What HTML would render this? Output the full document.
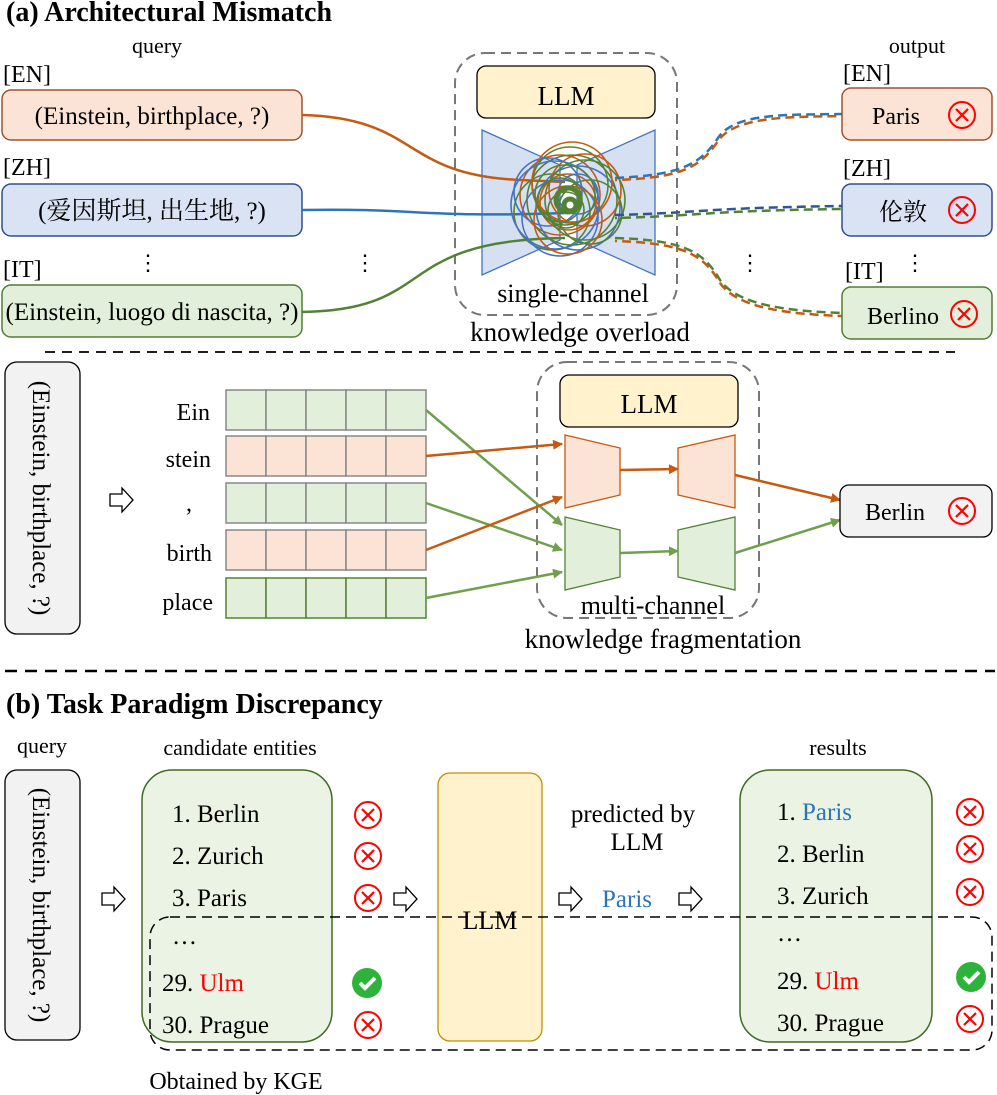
<!DOCTYPE html>
<html><head><meta charset="utf-8"><style>
body{margin:0;background:#fff}
svg{display:block}
text{font-family:"Liberation Serif","Times New Roman",serif;fill:#000}
.cjk{font-family:"Liberation Serif","Noto Serif CJK SC","Noto Sans CJK SC",serif}
</style></head><body>
<svg width="997" height="1095" viewBox="0 0 997 1095" xmlns="http://www.w3.org/2000/svg">
<defs>
<g id="xr"><circle r="13" fill="none" stroke="#f00" stroke-width="2"/><path d="M-6,-6L6,6M6,-6L-6,6" stroke="#f00" stroke-width="2.2"/></g>
<g id="ck"><circle r="15" fill="#2eb33a"/><path d="M-7,0L-2,5L8,-5" stroke="#fff" stroke-width="4" fill="none"/></g>
<g id="ar"><path d="M-11,-6H1V-12L12,0L1,12V6H-11Z" fill="#fff" stroke="#000" stroke-width="1.3"/></g>
<marker id="mo" markerWidth="10" markerHeight="10" refX="9" refY="5" orient="auto" markerUnits="userSpaceOnUse"><path d="M0,0L10,5L0,10Z" fill="#c55a11"/></marker>
<marker id="mg" markerWidth="10" markerHeight="10" refX="9" refY="5" orient="auto" markerUnits="userSpaceOnUse"><path d="M0,0L10,5L0,10Z" fill="#70a04c"/></marker>
</defs>

<text x="6" y="21" font-size="28" font-weight="bold">(a) Architectural Mismatch</text>
<text x="157" y="53" font-size="22" text-anchor="middle">query</text>
<text x="917" y="53" font-size="22" text-anchor="middle">output</text>

<text x="3" y="82" font-size="24">[EN]</text>
<rect x="2" y="90" width="300" height="50" rx="9" fill="#fbe4d6" stroke="#a0522d" stroke-width="1.5"/>
<text x="152" y="124" font-size="25" text-anchor="middle">(Einstein, birthplace, ?)</text>
<text x="3" y="175" font-size="24">[ZH]</text>
<rect x="2" y="184" width="300" height="52" rx="9" fill="#dae3f3" stroke="#2f4f8f" stroke-width="1.5"/>
<text x="152" y="219" font-size="25" text-anchor="middle" class="cjk">(爱因斯坦, 出生地, ?)</text>
<text x="148" y="270" font-size="22" text-anchor="middle">⋮</text>
<text x="365" y="270" font-size="22" text-anchor="middle">⋮</text>
<text x="3" y="277" font-size="24">[IT]</text>
<rect x="2" y="285" width="300" height="52" rx="9" fill="#e2efda" stroke="#507e32" stroke-width="1.5"/>
<text x="152" y="320" font-size="25" text-anchor="middle">(Einstein, luogo di nascita, ?)</text>

<rect x="455" y="53" width="222" height="262" rx="30" fill="none" stroke="#777" stroke-width="2" stroke-dasharray="10,6"/>
<rect x="477" y="66" width="178" height="52" rx="9" fill="#fff2cc" stroke="#000" stroke-width="1.3"/>
<text x="566" y="105" font-size="27" text-anchor="middle">LLM</text>
<path d="M482,130L560,165L560,240L482,275Z" fill="#d6e0f3" stroke="#4472c4" stroke-width="1.3"/>
<path d="M655,130L577,165L577,240L655,275Z" fill="#d6e0f3" stroke="#4472c4" stroke-width="1.3"/>

<path d="M302,115C420,118 400,175 520,180L565,182" fill="none" stroke="#c55a11" stroke-width="2.5"/>
<path d="M302,210C420,208 420,218 565,213" fill="none" stroke="#2e75b6" stroke-width="2.5"/>
<path d="M302,312C440,310 390,240 565,238" fill="none" stroke="#548235" stroke-width="2.5"/>

<g fill="none" stroke-width="1.6">
<circle cx="560" cy="195" r="40" stroke="#c55a11"/><circle cx="578" cy="208" r="42" stroke="#4472c4"/>
<circle cx="570" cy="185" r="38" stroke="#548235"/><circle cx="552" cy="212" r="38" stroke="#548235"/>
<circle cx="585" cy="190" r="36" stroke="#c55a11"/><circle cx="560" cy="218" r="38" stroke="#4472c4"/>
<circle cx="572" cy="200" r="45" stroke="#548235"/><circle cx="548" cy="192" r="34" stroke="#4472c4"/>
<circle cx="590" cy="212" r="32" stroke="#548235"/><circle cx="568" cy="202" r="28" stroke="#c55a11"/>
<circle cx="560" cy="200" r="22" stroke="#548235"/><circle cx="578" cy="194" r="20" stroke="#4472c4"/>
<circle cx="566" cy="210" r="18" stroke="#548235"/><circle cx="572" cy="182" r="40" stroke="#c55a11"/>
<circle cx="555" cy="205" r="44" stroke="#4472c4"/><circle cx="585" cy="200" r="40" stroke="#548235"/>
<circle cx="568" cy="220" r="34" stroke="#c55a11"/><circle cx="565" cy="195" r="30" stroke="#548235"/>
<circle cx="568" cy="200" r="12" stroke="#548235" stroke-width="5"/>
<circle cx="570" cy="205" r="6" stroke="#548235" stroke-width="5"/>
</g>

<g fill="none" stroke-width="2.5" stroke-dasharray="9,5">
<path d="M615,178C680,175 700,165 718,138C735,112 790,115 842,114" stroke="#2e75b6"/>
<path d="M615,180C680,178 700,168 718,141C735,116 790,117 842,116" stroke="#c55a11" stroke-dashoffset="7"/>
<path d="M615,215C700,213 700,208 842,206" stroke="#2f5597"/>
<path d="M615,218C700,216 700,211 842,209" stroke="#548235" stroke-dashoffset="7"/>
<path d="M615,238C690,240 705,255 720,280C738,306 790,311 842,313" stroke="#548235"/>
<path d="M615,241C690,243 705,258 720,283C738,309 790,314 842,316" stroke="#c55a11" stroke-dashoffset="7"/>
</g>
<text x="573" y="302" font-size="26" text-anchor="middle">single-channel</text>
<text x="580" y="341" font-size="27" text-anchor="middle">knowledge overload</text>
<text x="750" y="270" font-size="22" text-anchor="middle">⋮</text>
<text x="915" y="270" font-size="22" text-anchor="middle">⋮</text>

<text x="843" y="81" font-size="24">[EN]</text>
<rect x="842" y="88" width="150" height="52" rx="9" fill="#fbe4d6" stroke="#a0522d" stroke-width="1.5"/>
<text x="896" y="124" font-size="24" text-anchor="middle">Paris</text>
<use href="#xr" x="962" y="115"/>
<text x="843" y="176" font-size="24">[ZH]</text>
<rect x="842" y="184" width="150" height="52" rx="9" fill="#dae3f3" stroke="#2f4f8f" stroke-width="1.5"/>
<text x="903" y="220" font-size="24" text-anchor="middle" class="cjk">伦敦</text>
<use href="#xr" x="962" y="210"/>
<text x="845" y="279" font-size="24">[IT]</text>
<rect x="842" y="287" width="150" height="52" rx="9" fill="#e2efda" stroke="#507e32" stroke-width="1.5"/>
<text x="903" y="324" font-size="24" text-anchor="middle">Berlino</text>
<use href="#xr" x="964" y="314"/>

<line x1="45" y1="352" x2="955" y2="352" stroke="#000" stroke-width="1.8" stroke-dasharray="10,7"/>

<rect x="5" y="362" width="75" height="272" rx="12" fill="#f2f2f2" stroke="#000" stroke-width="1.3"/>
<text transform="translate(33,498) rotate(90)" font-size="25" text-anchor="middle">(Einstein, birthplace, ?)</text>
<use href="#ar" x="121" y="500"/>

<g font-size="24" text-anchor="end">
<text x="210" y="420">Ein</text><text x="211" y="467">stein</text><text x="192" y="511">,</text>
<text x="212" y="561">birth</text><text x="213" y="610">place</text></g>
<g stroke-width="1.5">
<g fill="#e2efda" stroke="#888"><rect x="226" y="390" width="40" height="40"/><rect x="266" y="390" width="40" height="40"/><rect x="306" y="390" width="40" height="40"/><rect x="346" y="390" width="40" height="40"/><rect x="386" y="390" width="40" height="40"/></g>
<g fill="#fbe4d6" stroke="#888"><rect x="226" y="436" width="40" height="40"/><rect x="266" y="436" width="40" height="40"/><rect x="306" y="436" width="40" height="40"/><rect x="346" y="436" width="40" height="40"/><rect x="386" y="436" width="40" height="40"/></g>
<g fill="#e2efda" stroke="#888"><rect x="226" y="483" width="40" height="40"/><rect x="266" y="483" width="40" height="40"/><rect x="306" y="483" width="40" height="40"/><rect x="346" y="483" width="40" height="40"/><rect x="386" y="483" width="40" height="40"/></g>
<g fill="#fbe4d6" stroke="#888"><rect x="226" y="530" width="40" height="40"/><rect x="266" y="530" width="40" height="40"/><rect x="306" y="530" width="40" height="40"/><rect x="346" y="530" width="40" height="40"/><rect x="386" y="530" width="40" height="40"/></g>
<g fill="#e2efda" stroke="#548235"><rect x="226" y="578" width="40" height="40"/><rect x="266" y="578" width="40" height="40"/><rect x="306" y="578" width="40" height="40"/><rect x="346" y="578" width="40" height="40"/><rect x="386" y="578" width="40" height="40"/></g>
</g>

<rect x="537" y="362" width="222" height="256" rx="30" fill="none" stroke="#777" stroke-width="2" stroke-dasharray="10,6"/>
<rect x="560" y="375" width="178" height="52" rx="9" fill="#fff2cc" stroke="#000" stroke-width="1.3"/>
<text x="649" y="413" font-size="27" text-anchor="middle">LLM</text>
<path d="M565,435L620,448L620,495L565,508Z" fill="#fbe4d6" stroke="#c55a11" stroke-width="1.3"/>
<path d="M678,448L735,435L735,508L678,495Z" fill="#fbe4d6" stroke="#c55a11" stroke-width="1.3"/>
<path d="M565,517L620,530L620,577L565,590Z" fill="#e2efda" stroke="#548235" stroke-width="1.3"/>
<path d="M678,530L735,517L735,590L678,577Z" fill="#e2efda" stroke="#548235" stroke-width="1.3"/>

<g fill="none" stroke-width="2.5">
<line x1="426" y1="410" x2="562" y2="525" stroke="#70a04c" marker-end="url(#mg)"/>
<line x1="426" y1="456" x2="562" y2="444" stroke="#c55a11" marker-end="url(#mo)"/>
<line x1="426" y1="503" x2="562" y2="550" stroke="#70a04c" marker-end="url(#mg)"/>
<line x1="426" y1="550" x2="562" y2="497" stroke="#c55a11" marker-end="url(#mo)"/>
<line x1="426" y1="598" x2="562" y2="572" stroke="#70a04c" marker-end="url(#mg)"/>
<line x1="620" y1="470" x2="678" y2="469" stroke="#c55a11" marker-end="url(#mo)"/>
<line x1="620" y1="553" x2="678" y2="551" stroke="#70a04c" marker-end="url(#mg)"/>
<line x1="735" y1="475" x2="840" y2="500" stroke="#c55a11" marker-end="url(#mo)"/>
<line x1="735" y1="553" x2="840" y2="520" stroke="#70a04c" marker-end="url(#mg)"/>
</g>
<rect x="840" y="485" width="152" height="52" rx="9" fill="#f2f2f2" stroke="#000" stroke-width="1.3"/>
<text x="895" y="520" font-size="24" text-anchor="middle">Berlin</text>
<use href="#xr" x="962" y="511"/>
<text x="653" y="614" font-size="26" text-anchor="middle">multi-channel</text>
<text x="663" y="648" font-size="27" text-anchor="middle">knowledge fragmentation</text>

<line x1="5" y1="671" x2="995" y2="671" stroke="#000" stroke-width="2.5" stroke-dasharray="12,8"/>

<text x="6" y="713" font-size="28" font-weight="bold">(b) Task Paradigm Discrepancy</text>
<text x="42" y="753" font-size="22" text-anchor="middle">query</text>
<text x="240" y="755" font-size="22" text-anchor="middle">candidate entities</text>
<text x="838" y="755" font-size="22" text-anchor="middle">results</text>

<rect x="5" y="770" width="75" height="270" rx="12" fill="#f2f2f2" stroke="#000" stroke-width="1.3"/>
<text transform="translate(33,905) rotate(90)" font-size="25" text-anchor="middle">(Einstein, birthplace, ?)</text>
<use href="#ar" x="113" y="899"/>

<rect x="142" y="770" width="190" height="272" rx="30" fill="#ebf3e4" stroke="#3f6b22" stroke-width="1.5"/>
<g font-size="25">
<text x="172" y="822">1. Berlin</text><text x="172" y="864">2. Zurich</text><text x="172" y="906">3. Paris</text>
<text x="172" y="944">…</text><text x="162" y="991">29. <tspan style="fill:#f00">Ulm</tspan></text><text x="162" y="1033">30. Prague</text></g>
<use href="#xr" x="368" y="815"/><use href="#xr" x="368" y="856"/><use href="#xr" x="368" y="898"/>
<use href="#ck" x="367" y="983"/><use href="#xr" x="368" y="1025"/>
<use href="#ar" x="405" y="899"/>

<rect x="438" y="773" width="104" height="268" rx="12" fill="#fff2cc" stroke="#bf9000" stroke-width="1.3"/>
<text x="490" y="929" font-size="26" text-anchor="middle">LLM</text>
<text x="633" y="822" font-size="25" text-anchor="middle">predicted by</text>
<text x="637" y="850" font-size="25" text-anchor="middle">LLM</text>
<use href="#ar" x="570" y="899"/>
<text x="627" y="907" font-size="25" text-anchor="middle" style="fill:#2e75b6">Paris</text>
<use href="#ar" x="690" y="899"/>

<rect x="740" y="770" width="192" height="272" rx="30" fill="#ebf3e4" stroke="#3f6b22" stroke-width="1.5"/>
<g font-size="25">
<text x="777" y="820">1. <tspan style="fill:#2e75b6">Paris</tspan></text><text x="777" y="862">2. Berlin</text><text x="777" y="904">3. Zurich</text>
<text x="777" y="941">…</text><text x="777" y="989">29. <tspan style="fill:#f00">Ulm</tspan></text><text x="777" y="1031">30. Prague</text></g>
<use href="#xr" x="970" y="812"/><use href="#xr" x="970" y="849"/><use href="#xr" x="970" y="892"/>
<use href="#ck" x="971" y="977"/><use href="#xr" x="970" y="1019"/>

<rect x="150" y="917" width="842" height="133" rx="20" fill="none" stroke="#000" stroke-width="1.5" stroke-dasharray="10,6"/>
<text x="236" y="1089" font-size="24" text-anchor="middle">Obtained by KGE</text>
</svg>
</body></html>
